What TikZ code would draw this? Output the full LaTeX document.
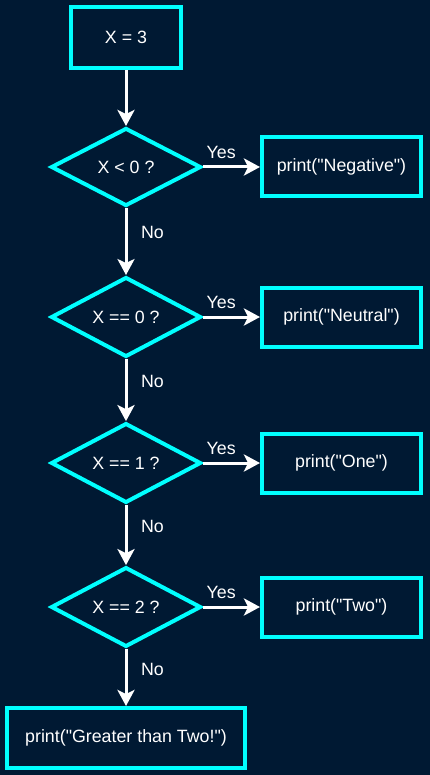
\documentclass[tikz,border=0pt]{standalone}
\usepackage{fontspec}
\newfontfamily\arial{Liberation Sans}
\usetikzlibrary{positioning,shapes.geometric,arrows.meta}

\definecolor{navy}{RGB}{0,25,51}
\definecolor{aqua}{RGB}{0,255,255}

\tikzset{
    box/.style={draw=aqua, line width=4pt, minimum width=159pt, minimum height=59pt, inner sep=0pt},
    test/.style={draw=aqua, diamond, line width=4pt, minimum width=150pt, minimum height=78pt, inner sep=0pt},
    flow/.style={draw=white, line width=3pt, -{Stealth[length=16pt,width=17pt,inset=4pt]}},
    tag/.style={inner sep=0pt, outer sep=0pt}
}

\begin{document}
\begin{tikzpicture}[x=1pt, y=-1pt, text=white, font=\arial\fontsize{17.8}{21}\selectfont]
        \fill[navy] (0,0) rectangle (430,775);

        \node(1)[box, minimum width=110pt, minimum height=61pt] at (126,37.5) {X = 3};
        \node(2)[test] at (126,167) {X < 0 ?};
        \node(3)[test] at (126,317) {X == 0 ?};
        \node(4)[test] at (126,463) {X == 1 ?};
        \node(5)[test] at (126,607) {X == 2 ?};
        \node(6)[box, minimum width=238pt, minimum height=60pt] at (126,738) {print("Greater than Two!")};
        \node(7)[box, right=57pt of 2] {print("Negative")};
        \node(8)[box, right=57pt of 3] {print("Neutral")};
        \node(9)[box, right=57pt of 4] {print("One")};
        \node(10)[box, right=57pt of 5] {print("Two")};

        \draw[flow] (1) -- (2);
        \draw[flow] (2) -- node[tag, pos=0.36, right=15pt] {No} (3);
        \draw[flow] (3) -- node[tag, pos=0.36, right=15pt] {No} (4);
        \draw[flow] (4) -- node[tag, pos=0.36, right=15pt] {No} (5);
        \draw[flow] (5) -- node[tag, pos=0.36, right=15pt] {No} (6);
        \draw[flow] (2) -- node[tag, pos=0.32, above=8.6pt] {Yes} (7);
        \draw[flow] (3) -- node[tag, pos=0.32, above=8.6pt] {Yes} (8);
        \draw[flow] (4) -- node[tag, pos=0.32, above=8.6pt] {Yes} (9);
        \draw[flow] (5) -- node[tag, pos=0.32, above=8.6pt] {Yes} (10);
    \end{tikzpicture}
\end{document}
